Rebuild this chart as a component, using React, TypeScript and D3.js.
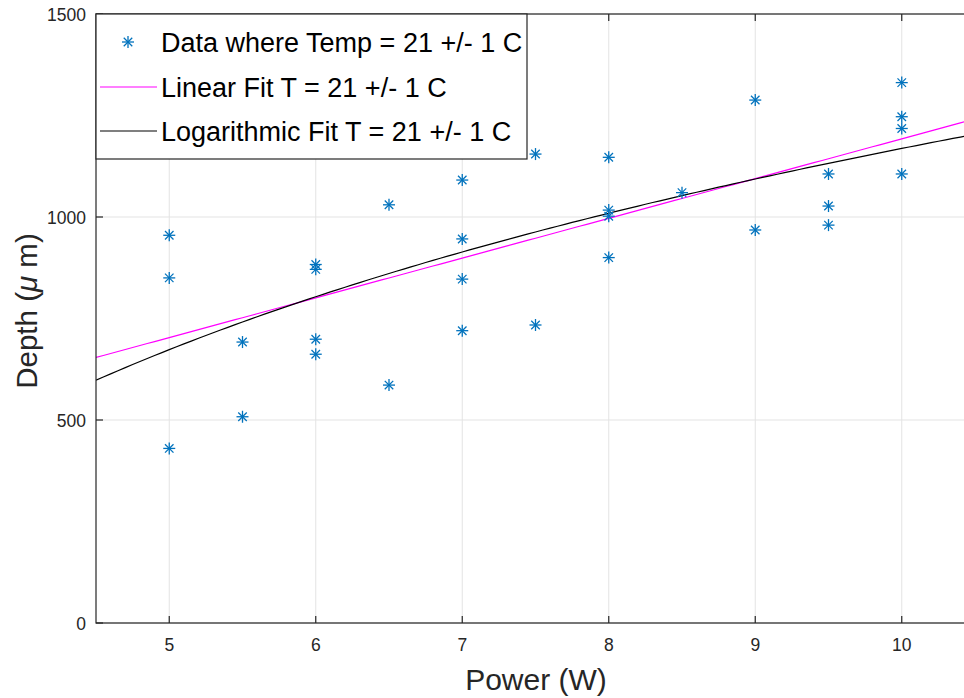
import React from "react";
import * as d3 from "d3";

const powerW = [5, 5, 5, 5.5, 5.5, 6, 6, 6, 6, 6.5, 6.5, 7, 7, 7, 7, 7.5, 7.5, 8, 8, 8, 8, 8.5, 9, 9, 9.5, 9.5, 9.5, 10, 10, 10, 10];
const depthUm = [955, 850, 430, 692, 508, 883, 871, 699, 662, 1030, 586, 1091, 946, 847, 720, 1155, 734, 1147, 1017, 1002, 900, 1060, 1288, 968, 1106, 1027, 980, 1331, 1247, 1218, 1106];
const xTicks = [5, 6, 7, 8, 9, 10];
const yTicks = [0, 500, 1000, 1500];
const linearFit = { slope: 97.9, intercept: 213.5 };
const logFit = { a: -477.5, b: 715 };
const legendLabels = ["Data where Temp = 21 +/- 1 C", "Linear Fit T = 21 +/- 1 C", "Logarithmic Fit T = 21 +/- 1 C"];

const W = 964, H = 698;
const left = 96, right = 975, top = 14, bottom = 623;
const font = "'Liberation Sans', Arial, Helvetica, sans-serif";
const axisColor = "#262626";
const blue = "#0072BD";

function Star({ cx, cy, r = 6 }: { cx: number; cy: number; r?: number }) {
  const d = r * 0.7071;
  return (
    <g stroke={blue} strokeWidth={1.3}>
      <line x1={cx - r} y1={cy} x2={cx + r} y2={cy} />
      <line x1={cx} y1={cy - r} x2={cx} y2={cy + r} />
      <line x1={cx - d} y1={cy - d} x2={cx + d} y2={cy + d} />
      <line x1={cx - d} y1={cy + d} x2={cx + d} y2={cy - d} />
    </g>
  );
}

export default function App() {
  const x = d3.scaleLinear().domain([4.5, 10.5]).range([left, right]);
  const y = d3.scaleLinear().domain([0, 1500]).range([bottom, top]);
  const xs = d3.range(4.5, 10.5001, 0.05);
  const linPath = d3.line<number>().x((v) => x(v)).y((v) => y(linearFit.slope * v + linearFit.intercept))(xs) || "";
  const logPath = d3.line<number>().x((v) => x(v)).y((v) => y(logFit.a + logFit.b * Math.log(v)))(xs) || "";
  const tl = 7;
  const legX = left, legY = top, legW = 431, legH = 145;
  const rowY = [42, 87, 131];
  return (
    <svg width={W} height={H} style={{ position: "absolute", left: 0, top: 0, background: "#fff" }} fontFamily={font}>
      <defs>
        <clipPath id="plot">
          <rect x={left} y={top} width={right - left} height={bottom - top} />
        </clipPath>
      </defs>
      <rect x={0} y={0} width={W} height={H} fill="#fff" />
      <g stroke="#e3e3e3" strokeWidth={1}>
        {xTicks.map((t) => (
          <line key={"gx" + t} x1={x(t)} x2={x(t)} y1={top} y2={bottom} />
        ))}
        {yTicks.map((t) => (
          <line key={"gy" + t} x1={left} x2={right} y1={y(t)} y2={y(t)} />
        ))}
      </g>
      <g clipPath="url(#plot)" fill="none">
        <path d={linPath} stroke="#ff00ff" strokeWidth={1.2} />
        <path d={logPath} stroke="#000" strokeWidth={1.2} />
      </g>
      <g>
        {powerW.map((p, i) => (
          <Star key={i} cx={x(p)} cy={y(depthUm[i])} />
        ))}
      </g>
      <g stroke={axisColor} strokeWidth={1.2} fill="none">
        <rect x={left} y={top} width={right - left} height={bottom - top} />
        {xTicks.map((t) => (
          <g key={"tx" + t}>
            <line x1={x(t)} x2={x(t)} y1={bottom} y2={bottom - tl} />
            <line x1={x(t)} x2={x(t)} y1={top} y2={top + tl} />
          </g>
        ))}
        {yTicks.map((t) => (
          <line key={"ty" + t} x1={left} x2={left + tl} y1={y(t)} y2={y(t)} />
        ))}
      </g>
      <g fill={axisColor} fontSize={17.5}>
        {xTicks.map((t) => (
          <text key={"lx" + t} x={x(t)} y={bottom + 28} textAnchor="middle">
            {t}
          </text>
        ))}
        {yTicks.map((t) => (
          <text key={"ly" + t} x={left - 10} y={y(t) + 7} textAnchor="end">
            {t}
          </text>
        ))}
      </g>
      <text x={536} y={690} textAnchor="middle" fontSize={30} fill={axisColor}>
        Power (W)
      </text>
      <text transform={`translate(37,${311}) rotate(-90)`} textAnchor="middle" fontSize={29.5} fill={axisColor}>
        Depth (<tspan fontStyle="italic">μ</tspan> m)
      </text>
      <g>
        <rect x={legX} y={legY} width={legW} height={legH} fill="#fff" stroke={axisColor} strokeWidth={1.2} />
        <Star cx={128} cy={rowY[0]} r={6} />
        <line x1={100} x2={157} y1={rowY[1]} y2={rowY[1]} stroke="#ff00ff" strokeWidth={1.2} />
        <line x1={100} x2={157} y1={rowY[2]} y2={rowY[2]} stroke="#000" strokeWidth={1.2} />
        {legendLabels.map((s, i) => (
          <text key={s} x={161} y={rowY[i] + 9.5} fontSize={27} fill="#000">
            {s}
          </text>
        ))}
      </g>
    </svg>
  );
}
